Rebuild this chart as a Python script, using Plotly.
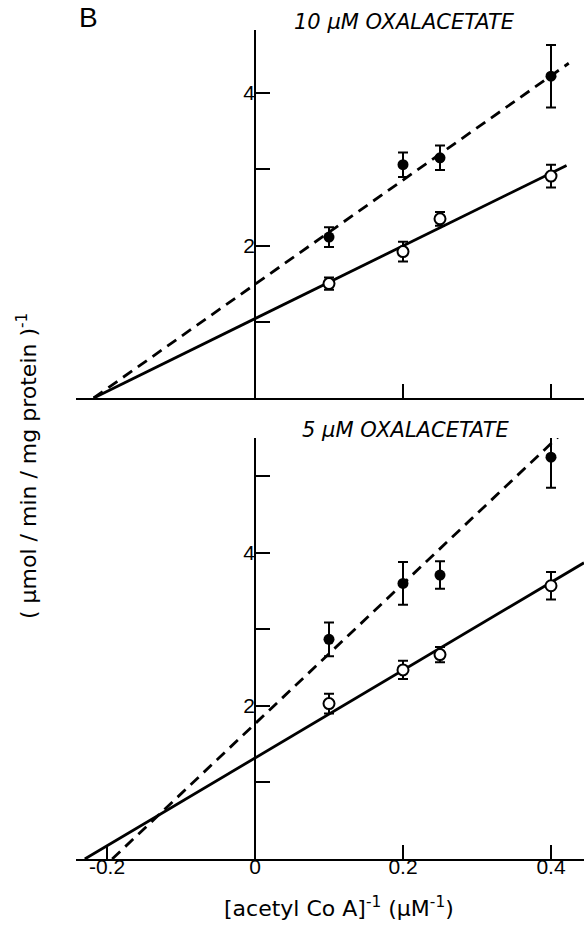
import plotly.graph_objects as go

# ---------------- data ----------------
inv_acoa = [0.1, 0.2, 0.25, 0.4]

# 10 uM oxalacetate (top panel)
top_filled = [2.11, 3.06, 3.15, 4.22]
top_filled_err = [0.13, 0.16, 0.16, 0.41]
top_open = [1.50, 1.92, 2.35, 2.91]
top_open_err = [0.08, 0.13, 0.09, 0.15]

# 5 uM oxalacetate (bottom panel)
bot_filled = [2.87, 3.60, 3.71, 5.25]
bot_filled_err = [0.22, 0.28, 0.18, 0.40]
bot_open = [2.03, 2.47, 2.67, 3.57]
bot_open_err = [0.13, 0.12, 0.10, 0.18]

# fitted lines (end points)
top_dash_x = [-0.218, 0.424]
top_dash_y = [0.0, 4.39]
top_solid_x = [-0.218, 0.421]
top_solid_y = [0.0, 3.05]
bot_dash_x = [-0.193, 0.42]
bot_dash_y = [0.0, 5.61]
bot_solid_x = [-0.23, 0.4446]
bot_solid_y = [0.0, 3.87]

top_title = "<i>10 µM OXALACETATE</i>"
bot_title = "<i>5 µM OXALACETATE</i>"
x_ticks = [-0.2, 0, 0.2, 0.4]
x_ticktext = ["-0.2", "0", "0.2", "0.4"]
y_labeled_ticks = [2, 4]

# ---------------- figure ----------------
W, H = 584, 931
FONT = "Liberation Sans"
WIDE = "DejaVu Sans"
fig = go.Figure()

def add_panel(xa, ya, dx, dy, sx, sy, fy, fe, oy, oe):
    fig.add_trace(go.Scatter(x=dx, y=dy, mode="lines", xaxis=xa, yaxis=ya,
                             line=dict(color="black", width=2.8, dash="11px,7px"),
                             showlegend=False, hoverinfo="skip"))
    fig.add_trace(go.Scatter(x=sx, y=sy, mode="lines", xaxis=xa, yaxis=ya,
                             line=dict(color="black", width=2.8),
                             showlegend=False, hoverinfo="skip"))
    fig.add_trace(go.Scatter(x=inv_acoa, y=fy, mode="markers", xaxis=xa, yaxis=ya,
                             marker=dict(color="black", size=11),
                             error_y=dict(type="data", array=fe, color="black",
                                          thickness=2, width=5),
                             showlegend=False))
    fig.add_trace(go.Scatter(x=inv_acoa, y=oy, mode="markers", xaxis=xa, yaxis=ya,
                             marker=dict(color="white", size=11,
                                         line=dict(color="black", width=2)),
                             error_y=dict(type="data", array=oe, color="black",
                                          thickness=2, width=5),
                             showlegend=False))

add_panel("x", "y", top_dash_x, top_dash_y, top_solid_x, top_solid_y,
          top_filled, top_filled_err, top_open, top_open_err)
add_panel("x2", "y2", bot_dash_x, bot_dash_y, bot_solid_x, bot_solid_y,
          bot_filled, bot_filled_err, bot_open, bot_open_err)

x0px = 255.0
xl, xr = 76.0, 584.0
ppu = 740.0
xrange = [(xl - x0px) / ppu, (xr - x0px) / ppu]
xdom = [xl / W, 1.0]
ypos = x0px / W

tickfont = dict(family=FONT, size=21, color="black")
minor = dict(ticks="inside", ticklen=14, tickwidth=1.5, tickcolor="black",
             dtick=1, tick0=0, showgrid=False)

common_x = dict(range=xrange, domain=xdom, showgrid=False, zeroline=False,
                showline=True, linecolor="black", linewidth=2,
                ticks="inside", ticklen=14, tickwidth=1.5, tickcolor="black",
                tickfont=tickfont)
common_y = dict(showgrid=False, zeroline=False, showline=True, linecolor="black",
                linewidth=1.5, ticks="inside", ticklen=14, tickwidth=1.5,
                tickcolor="black", tickfont=tickfont, anchor="free", position=ypos,
                tickvals=y_labeled_ticks, ticklabelstandoff=-5, minor=minor)

fig.update_layout(
    width=W, height=H, autosize=False,
    margin=dict(l=0, r=0, t=0, b=0),
    paper_bgcolor="white", plot_bgcolor="rgba(0,0,0,0)",
    xaxis=dict(common_x, anchor="y", tickvals=[0.2, 0.4], showticklabels=False),
    yaxis=dict(common_y, domain=[1 - 398 / H, 1 - 30 / H], range=[0, 368 / 76.25]),
    xaxis2=dict(common_x, anchor="y2", tickvals=x_ticks, ticktext=x_ticktext,
                ticklabelstandoff=-12),
    yaxis2=dict(common_y, domain=[1 - 859 / H, 1 - 438 / H], range=[0, 5.5]),
)

def ann(text, xpx, ypx, font, angle=0):
    fig.add_annotation(text=text, x=xpx / W, y=1 - ypx / H, xref="paper", yref="paper",
                       xanchor="center", yanchor="middle", textangle=angle,
                       showarrow=False, font=font)

ann("B", 88, 18, dict(family=FONT, size=28, color="black"))
ann(top_title, 404, 22, dict(family=WIDE, size=21, color="black"))
ann(bot_title, 405, 430, dict(family=WIDE, size=21, color="black"))
ann("( µmol / min / mg protein )<sup>-1</sup>", 27, 466,
    dict(family=WIDE, size=22, color="black"), angle=-90)
ann("[acetyl Co A]<sup>-1</sup> (µM<sup>-1</sup>)", 339, 907,
    dict(family=WIDE, size=22, color="black"))

fig.write_html("out.html")
